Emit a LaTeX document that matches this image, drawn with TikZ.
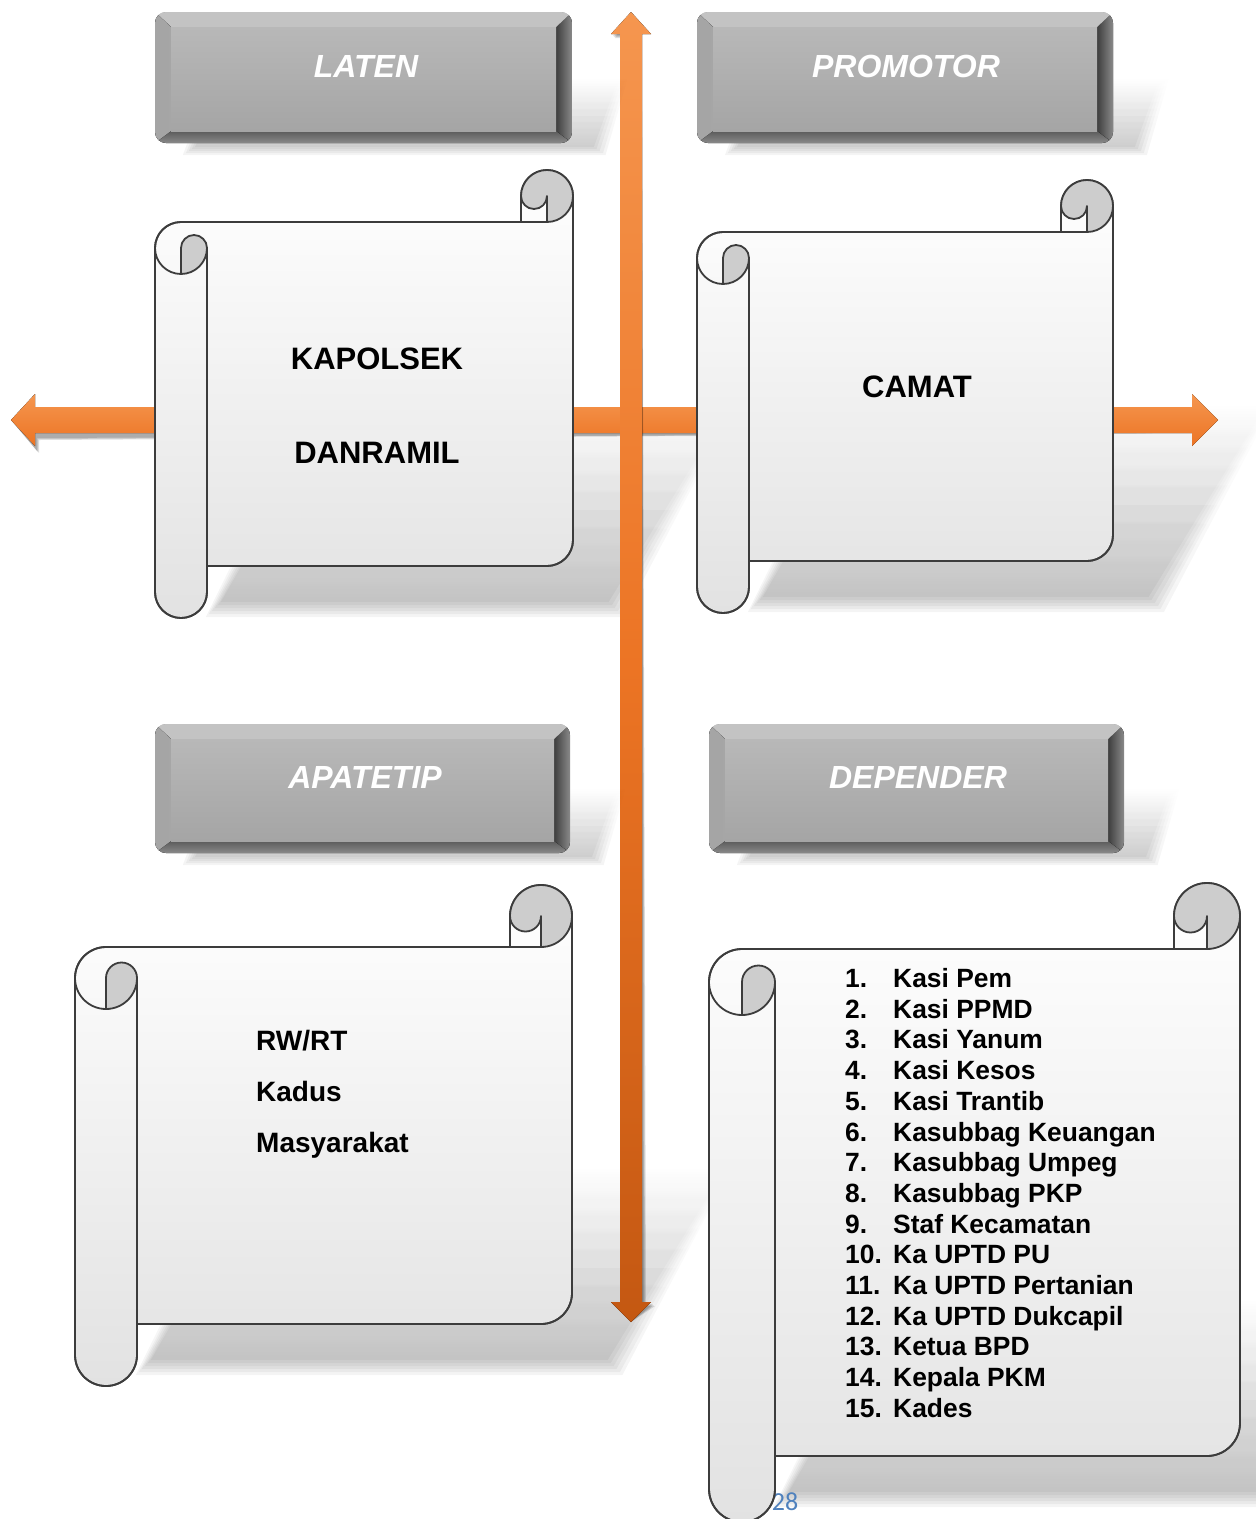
\documentclass[tikz,border=0pt]{standalone}
\usepackage{fontspec}
\setmainfont{Liberation Sans}
\newfontfamily\calfont{Carlito}
\usetikzlibrary{fadings}
\definecolor{orA}{HTML}{F5964F}
\definecolor{orB}{HTML}{EC7424}
\definecolor{orC}{HTML}{C45812}
\definecolor{outl}{HTML}{3C3C3C}
\definecolor{curlgrey}{HTML}{CDCDCD}
\definecolor{sheetlow}{HTML}{E2E2E2}
\definecolor{pgnum}{HTML}{4F81BD}
\definecolor{hface}{HTML}{B8B8B8}
\definecolor{hfaceb}{HTML}{A5A5A5}
\definecolor{hdark}{HTML}{3E3E3E}
\definecolor{hmid}{HTML}{8A8A8A}
\definecolor{hlight}{HTML}{C3C3C3}

\tikzset{
  scrollbody/.style={top color=white, bottom color=sheetlow, draw=outl, line width=1.8pt, line join=round},
  scrollline/.style={draw=outl, line width=1.8pt, line cap=round, line join=round},
  curlfill/.style={fill=curlgrey},
  bodytext/.style={font=\bfseries\fontsize{31}{36}\selectfont, anchor=base, inner sep=0pt},
  lefttext/.style={font=\bfseries\fontsize{28}{33}\selectfont, anchor=base west, inner sep=0pt},
  listtext/.style={font=\bfseries\fontsize{26.4}{30}\selectfont, anchor=base west, inner sep=0pt},
  headtext/.style={font=\bfseries\itshape\fontsize{32}{38}\selectfont, text=white, anchor=base, inner sep=0pt},
  arrowshade/.style={fill=black, opacity=0.12},
  softshade/.style={fill=black, opacity=0.045, path fading=north},
}

% scroll: left, top, right, bottom (pixels, y down), curl size
\newcommand\myscroll[5]{%
  \pgfmathsetmacro\qqL{#1}\pgfmathsetmacro\qqR{#3}%
  \pgfmathsetmacro\qqT{-#2}\pgfmathsetmacro\qqB{-#4}%
  \pgfmathsetmacro\qqC{#5}\pgfmathsetmacro\qqCh{#5/2}\pgfmathsetmacro\qqCq{#5/4}%
  \pgfmathsetmacro\qqYT{\qqT-\qqC}%
  \pgfmathsetmacro\qqYh{\qqT-\qqCh}%
  \pgfmathsetmacro\qqYthree{\qqT-1.5*\qqC}%
  \pgfmathsetmacro\qqYfour{\qqT-2*\qqC}%
  \pgfmathsetmacro\qqYsix{\qqB+\qqC}%
  \pgfmathsetmacro\qqYseven{\qqB+\qqCh}%
  \pgfmathsetmacro\qqYfive{\qqB+1.5*\qqC}%
  \pgfmathsetmacro\qqXthree{\qqR-\qqC}%
  \pgfmathsetmacro\qqXfour{\qqR-\qqCh}%
  \pgfmathsetmacro\qqXl{\qqL+\qqCh}%
  \pgfmathsetmacro\qqXc{\qqL+\qqC}%
  \path[scrollbody] (\qqL,\qqYthree) arc[start angle=180,end angle=90,radius=\qqCh]
     -- (\qqXthree,\qqYT) -- (\qqXthree,\qqYh) arc[start angle=180,end angle=0,radius=\qqCh]
     -- (\qqR,\qqYfive) arc[start angle=0,end angle=-90,radius=\qqCh]
     -- (\qqXc,\qqYsix) -- (\qqXc,\qqYseven) arc[start angle=0,end angle=-180,radius=\qqCh] -- cycle;
  \fill[curlfill] (\qqXfour,\qqYT) arc[start angle=-90,end angle=180,radius=\qqCh]
     arc[start angle=180,end angle=360,radius=\qqCq] -- cycle;
  \fill[curlfill] (\qqXl,\qqYfour) arc[start angle=-90,end angle=0,radius=\qqCh]
     arc[start angle=0,end angle=180,radius=\qqCq] -- cycle;
  \path[scrollline] (\qqL,\qqYthree) arc[start angle=180,end angle=90,radius=\qqCh]
     -- (\qqXthree,\qqYT) -- (\qqXthree,\qqYh) arc[start angle=180,end angle=0,radius=\qqCh]
     -- (\qqR,\qqYfive) arc[start angle=0,end angle=-90,radius=\qqCh]
     -- (\qqXc,\qqYsix) -- (\qqXc,\qqYseven) arc[start angle=0,end angle=-180,radius=\qqCh] -- cycle;
  \path[scrollline] (\qqXthree,\qqYT) -- (\qqXfour,\qqYT) arc[start angle=-90,end angle=0,radius=\qqCh];
  \path[scrollline] (\qqXfour,\qqYT) -- (\qqXfour,\qqYh) arc[start angle=0,end angle=-180,radius=\qqCq];
  \path[scrollline] (\qqXl,\qqYfour) -- (\qqXl,\qqYthree) arc[start angle=180,end angle=0,radius=\qqCq]
     arc[start angle=0,end angle=-180,radius=\qqCh];
  \path[scrollline] (\qqXc,\qqYthree) -- (\qqXc,\qqYsix);
}

% soft perspective shadow of a scroll: inner left x, right x, sheet bottom y (pixels)
\newcommand\myshadow[3]{%
  \foreach \k in {0,...,5}{%
    \fill[softshade]
      (#1+14-3*\k,-#3-36-3*\k) -- (#2+36+3*\k,-#3-36-3*\k) -- (#2+150+3*\k,-#3+150+3*\k) -- (#1+120-3*\k,-#3+150+3*\k) -- cycle;
  }%
}

% header box: left, top, right, bottom (pixels)
\newcommand\myhead[4]{%
  \pgfmathsetmacro\hhL{#1}\pgfmathsetmacro\hhT{-#2}\pgfmathsetmacro\hhR{#3}\pgfmathsetmacro\hhB{-#4}%
  \pgfmathsetmacro\hhLi{#1+16}\pgfmathsetmacro\hhTi{-#2-15}\pgfmathsetmacro\hhRi{#3-16}\pgfmathsetmacro\hhBi{-#4+12}%
  \foreach \k in {0,...,4}{%
    \fill[softshade]
      (\hhL+40-3*\k,\hhB-4-2*\k) -- (\hhR+22+3*\k,\hhB-4-2*\k) -- (\hhR+45+3*\k,\hhB+60+2*\k) -- (\hhL+70-3*\k,\hhB+60+2*\k) -- cycle;
  }%
  \begin{scope}
    \clip[rounded corners=11pt] (\hhL,\hhT) rectangle (\hhR,\hhB);
    \fill[hmid] (\hhL,\hhT) rectangle (\hhR,\hhB);
    \fill[left color=hdark, right color=hmid] (\hhR,\hhT) -- (\hhR,\hhB) -- (\hhRi,\hhBi) -- (\hhRi,\hhTi) -- cycle;
    \fill[top color=hdark!85, bottom color=hmid] (\hhL,\hhB) -- (\hhR,\hhB) -- (\hhRi,\hhBi) -- (\hhLi,\hhBi) -- cycle;
    \fill[hlight] (\hhL,\hhT) -- (\hhR,\hhT) -- (\hhRi,\hhTi) -- (\hhLi,\hhTi) -- cycle;
    \fill[left color=hfaceb, right color=hface!90!black] (\hhL,\hhT) -- (\hhLi,\hhTi) -- (\hhLi,\hhBi) -- (\hhL,\hhB) -- cycle;
  \end{scope}
  \fill[top color=hface, bottom color=hfaceb] (\hhLi,\hhTi) rectangle (\hhRi,\hhBi);
}

\begin{document}
\begin{tikzpicture}[x=1pt,y=1pt]
\useasboundingbox (0,0) rectangle (1256,-1519);
\fill[white] (0,0) rectangle (1256,-1519);

% scroll shadows
\myshadow{207}{573}{566}
\myshadow{749}{1113}{561}
\myshadow{137}{572}{1324}
\myshadow{775}{1240}{1456}

% axes arrows
\coordinate (leftTip) at (11,-420);
\coordinate (rightTip) at (1218,-420);
\coordinate (topTip) at (631,-12);
\coordinate (botTip) at (631,-1322);

\foreach \s in {0,1,2}{
\begin{scope}[shift={(2+\s,-5-\s)}]
  \fill[arrowshade] (leftTip) -- ++(24,26) -- ++(0,-13) -- (1192,-407) -- ++(0,13) -- (rightTip)
     -- ++(-26,-26) -- ++(0,13) -- (35,-433) -- ++(0,-13) -- cycle;
\end{scope}}
\fill[top color=orA, bottom color=orB] (leftTip) -- ++(24,26) -- ++(0,-13) -- (1192,-407) -- ++(0,13) -- (rightTip)
     -- ++(-26,-26) -- ++(0,13) -- (35,-433) -- ++(0,-13) -- cycle;

\foreach \s in {0,1,2}{
\begin{scope}[shift={(2+\s,-2-\s)}]
  \fill[arrowshade] (topTip) -- ++(20,-22) -- ++(-9,0) -- (642,-1302) -- ++(9,0) -- (botTip)
     -- ++(-20,20) -- ++(9,0) -- (620,-34) -- ++(-9,0) -- cycle;
\end{scope}}
\fill[top color=orA, bottom color=orC, middle color=orB] (topTip) -- ++(20,-22) -- ++(-9,0) -- (642,-1302) -- ++(9,0) -- (botTip)
     -- ++(-20,20) -- ++(9,0) -- (620,-34) -- ++(-9,0) -- cycle;

% page number
\node[font=\calfont\fontsize{26}{30}\selectfont, text=pgnum, anchor=base, inner sep=0pt] (pgn) at (785,-1510) {28};

% header boxes
\myhead{155}{12}{572}{143}
\myhead{697}{12}{1113}{143}
\myhead{155}{724}{570}{853}
\myhead{709}{724}{1124}{853}

% scrolls
\myscroll{155}{170}{573}{618}{52}
\myscroll{697}{180}{1113}{613}{52}
\myscroll{75}{885}{572}{1386}{62}
\myscroll{709}{883}{1240}{1522}{66}

% header texts
\node[headtext] (laten) at (366,-77.5) {LATEN};
\node[headtext] (promotor) at (906,-77.5) {PROMOTOR};
\node[headtext] (apatetip) at (365,-788.5) {APATETIP};
\node[headtext] (depender) at (918,-788.5) {DEPENDER};

% scroll texts
\node[bodytext] (kapolsek) at (377,-369) {KAPOLSEK};
\node[bodytext] (danramil) at (377,-463) {DANRAMIL};
\node[bodytext] (camat) at (917,-397) {CAMAT};

\node[lefttext] (rwrt) at (256,-1050) {RW/RT};
\node[lefttext] (kadus) at (256,-1101) {Kadus};
\node[lefttext] (masy) at (256,-1152) {Masyarakat};

\foreach \n/\t in {1/Kasi Pem,2/Kasi PPMD,3/Kasi Yanum,4/Kasi Kesos,5/Kasi Trantib,
  6/Kasubbag Keuangan,7/Kasubbag Umpeg,8/Kasubbag PKP,9/Staf Kecamatan,10/Ka UPTD PU,
  11/Ka UPTD Pertanian,12/Ka UPTD Dukcapil,13/Ketua BPD,14/Kepala PKM,15/Kades}{
  \node[listtext] (item\n) at (845,{-987.5-(\n-1)*30.7}) {\makebox[48pt][l]{\n.}\t};
}
\end{tikzpicture}
\end{document}
